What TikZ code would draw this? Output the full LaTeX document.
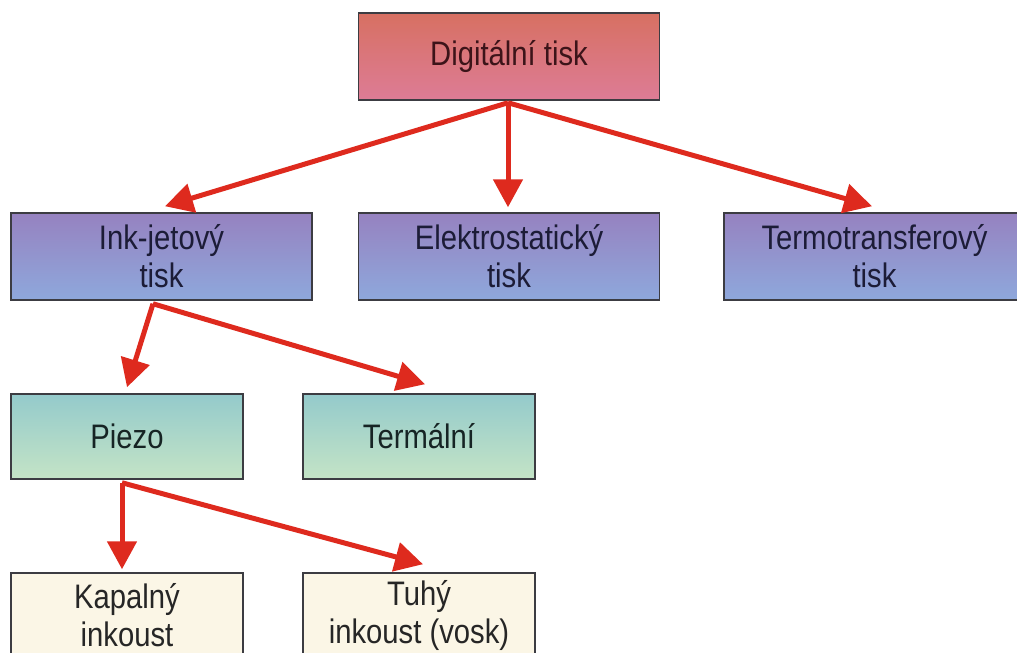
\documentclass[tikz,border=0pt]{standalone}
\usepackage{fontspec}
\setmainfont{Liberation Sans}
\newfontfamily\boxfont[FakeStretch=0.86]{Liberation Sans}
\usetikzlibrary{arrows.meta}
\definecolor{boxline}{RGB}{60,60,66}
\definecolor{digtop}{RGB}{215,112,98}
\definecolor{digbot}{RGB}{221,124,150}
\definecolor{purtop}{RGB}{150,130,192}
\definecolor{purbot}{RGB}{142,168,220}
\definecolor{teatop}{RGB}{148,202,203}
\definecolor{teabot}{RGB}{196,228,198}
\definecolor{cream}{RGB}{251,246,230}
\definecolor{arrred}{RGB}{222,42,30}
\definecolor{txtred}{RGB}{60,20,25}
\definecolor{txtblue}{RGB}{28,28,55}
\definecolor{txtteal}{RGB}{22,36,36}
\begin{document}
\begin{tikzpicture}[x=1pt,y=-1pt,
  box/.style={draw=boxline, line width=1.5pt, inner sep=0pt, align=center,
    font=\boxfont\fontsize{34}{38}\selectfont},
  bigbox/.style={box, minimum width=301pt, minimum height=87pt},
  smallbox/.style={box, minimum width=232pt, minimum height=85pt},
  redbox/.style={top color=digtop, bottom color=digbot, text=txtred},
  purbox/.style={top color=purtop, bottom color=purbot, text=txtblue},
  teabox/.style={top color=teatop, bottom color=teabot, text=txtteal},
  crbox/.style={fill=cream, text=black!85},
  arr/.style={draw=arrred, line width=5pt, -{Triangle[length=28pt,width=29pt]}}
]
\useasboundingbox (0,0) rectangle (1017,653);
\clip (0,0) rectangle (1017,653);

\node[bigbox, redbox] (dig) at (509,56.5) {Digitální tisk};
\node[bigbox, purbox] (ink) at (161.5,256.5) {Ink-jetový\\tisk};
\node[bigbox, purbox] (ele) at (509,256.5) {Elektrostatický\\tisk};
\node[bigbox, purbox] (ter) at (874.5,256.5) {Termotransferový\\tisk};
\node[smallbox, teabox] (pie) at (127,436.5) {Piezo};
\node[smallbox, teabox] (tml) at (419,436.5) {Termální};
\node[smallbox, crbox] (kap) at (127,615.5) {Kapalný\\inkoust};
\node[smallbox, crbox] (tuh) at (419,615.5) {Tuhý\\inkoust (vosk)};

\draw[arr] ([xshift=-1pt,yshift=-2pt]dig.south) -- ([xshift=3.5pt,yshift=6pt]ink.north);
\draw[arr] ([xshift=-1pt,yshift=-2pt]dig.south) -- ([xshift=-1pt,yshift=5pt]ele.north);
\draw[arr] ([xshift=-1pt,yshift=-2pt]dig.south) -- ([xshift=-2.5pt,yshift=6pt]ter.north);

\draw[arr] ([xshift=-8.5pt,yshift=-3pt]ink.south) -- ([yshift=6pt]pie.north);
\draw[arr] ([xshift=-8.5pt,yshift=-3pt]ink.south) -- ([xshift=6pt,yshift=9pt]tml.north);

\draw[arr] ([xshift=-5pt,yshift=-3pt]pie.south) -- ([xshift=-5pt,yshift=3pt]kap.north);
\draw[arr] ([xshift=-5pt,yshift=-3pt]pie.south) -- ([xshift=4pt,yshift=8pt]tuh.north);
\end{tikzpicture}
\end{document}
